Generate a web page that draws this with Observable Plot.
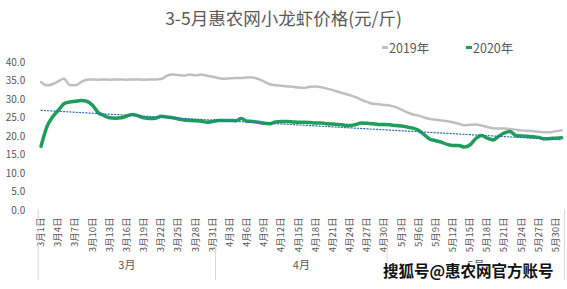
<!DOCTYPE html>
<html><head><meta charset="utf-8">
<script src="https://cdn.jsdelivr.net/npm/d3@7"></script>
<script src="https://cdn.jsdelivr.net/npm/@observablehq/plot@0.6"></script>
<style>
body{margin:0;background:#fff;font-family:"Noto Sans CJK SC","Noto Sans",sans-serif;}
#wrap{position:relative;width:567px;height:289px;overflow:hidden;}
.abs{position:absolute;white-space:nowrap;}
#title{left:0;width:567px;top:5px;text-align:center;font-size:17.5px;color:#595959;}
.leg{top:38px;font-size:12.5px;color:#595959;display:flex;align-items:center;}
.leg i{display:inline-block;width:6px;height:3px;margin-right:1px;}
#wm{left:383px;top:259px;font-size:15.5px;font-weight:bold;color:#111;
 text-shadow:1px 1px 0 #fff,-1px -1px 0 #fff,1px -1px 0 #fff,-1px 1px 0 #fff;}
</style></head><body><div id="wrap"></div>
<script>
const title = "3-5月惠农网小龙虾价格(元/斤)";
const seriesNames = ["2019年", "2020年"];
const months = ["3月", "4月", "5月"];
const monthNums = [3, 4, 5];
const monthDays = [31, 30, 31];
const yTicks = [0, 5, 10, 15, 20, 25, 30, 35, 40];
const price2019 = [
 34.8,33.9,34.2,35.0,35.7,34.0,33.9,34.8,35.4,35.5,
 35.4,35.5,35.4,35.5,35.5,35.4,35.5,35.5,35.4,35.5,
 35.5,35.6,36.5,36.8,36.7,36.5,36.8,36.6,36.8,36.5,
 36.2,35.9,35.7,35.8,35.9,35.9,36.0,36.0,35.6,34.9,
 34.2,33.9,33.8,33.6,33.5,33.3,33.2,33.5,33.6,33.4,
 33.0,32.6,32.1,31.7,31.2,30.7,30.0,29.4,28.9,28.8,
 28.6,28.4,28.0,27.3,26.6,26.0,25.7,25.2,24.8,24.6,
 24.4,24.2,23.9,23.5,23.1,23.2,23.3,23.0,22.6,22.3,
 22.2,22.2,22.1,21.9,21.7,21.6,21.5,21.3,21.2,21.2,
 21.5,21.7];
const price2020 = [
 17.4,22.6,25.3,27.1,28.9,29.4,29.6,29.8,29.6,28.5,
 26.5,25.7,25.1,25.0,25.1,25.6,26.0,25.6,25.1,24.9,
 25.0,25.5,25.3,25.1,24.8,24.5,24.4,24.3,24.2,23.9,
 24.1,24.4,24.4,24.4,24.3,24.9,24.2,24.1,23.9,23.6,
 23.5,24.0,24.1,24.1,24.0,23.9,23.9,23.8,23.7,23.7,
 23.5,23.4,23.3,23.1,23.0,23.3,23.7,23.6,23.5,23.3,
 23.3,23.2,23.0,22.9,22.6,22.3,21.7,20.5,19.3,18.9,
 18.5,17.9,17.6,17.6,17.2,17.8,19.5,20.3,19.6,19.1,
 20.1,21.0,21.4,20.3,20.2,20.1,20.0,19.8,19.4,19.5,
 19.6,19.7];
const watermark = "搜狐号@惠农网官方账号";

// category labels (dates)
const dateLabels = [];
monthNums.forEach((m, k) => { for (let d = 1; d <= monthDays[k]; d++) dateLabels.push(`${m}月${d}日`); });
const idx = dateLabels.map((_, i) => i);
const tickIdx = idx.filter(i => i % 3 === 0);
const d2019 = price2019.map((v, i) => ({i, v}));
const d2020 = price2020.map((v, i) => ({i, v}));
// month group boundaries and centers
const bounds = [-0.5]; monthDays.forEach(n => bounds.push(bounds[bounds.length - 1] + n));
const monthData = months.map((m, k) => ({m, x: (bounds[k] + bounds[k + 1]) / 2}));

const gray = "#595959";
const chart = Plot.plot({
  width: 567, height: 289,
  marginLeft: 37.7, marginRight: 3, marginTop: 62.3, marginBottom: 79,
  style: {fontFamily: '"Noto Sans CJK SC","Noto Sans",sans-serif', fontSize: "10px", color: gray, background: "transparent"},
  x: {domain: [bounds[0], bounds[bounds.length - 1]], axis: null},
  y: {domain: [0, 40], axis: null},
  marks: [
    Plot.axisY({ticks: yTicks, tickFormat: d => d.toFixed(1), tickSize: 0, tickPadding: 13, label: null, fontSize: 10, fill: gray}),
    Plot.axisX({ticks: tickIdx, tickFormat: i => dateLabels[i], tickRotate: -90, tickSize: 0, tickPadding: 7, label: null, fontSize: 9.5, fill: gray}),
    Plot.ruleX([bounds[0], bounds[bounds.length - 1]], {y1: 0, y2: -19, stroke: "#d9d9d9", strokeWidth: 1}),
    Plot.ruleX(bounds.slice(1, -1), {y1: -10, y2: -19, stroke: "#d9d9d9", strokeWidth: 1}),
    Plot.text(monthData, {x: "x", text: "m", frameAnchor: "bottom", dy: 58, fontSize: 11, fill: gray}),
    Plot.line(d2019, {x: "i", y: "v", stroke: "#bfbfbf", strokeWidth: 2.5, curve: "monotone-x"}),
    Plot.line(d2020, {x: "i", y: "v", stroke: "#1f9d5a", strokeWidth: 3.5, curve: "monotone-x"}),
    Plot.linearRegressionY(d2020, {x: "i", y: "v", ci: 0, stroke: "#2f6fb0", strokeWidth: 1.2, strokeDasharray: "1.2,2"})
  ]
});
const wrap = document.getElementById("wrap");
wrap.appendChild(chart);
const t = document.createElement("div"); t.className = "abs"; t.id = "title"; t.textContent = title; wrap.appendChild(t);
const legColors = ["#bfbfbf", "#1f9d5a"];
const legX = [382, 466];
seriesNames.forEach((s, k) => {
  const l = document.createElement("div"); l.className = "abs leg"; l.style.left = legX[k] + "px";
  l.innerHTML = `<i style="background:${legColors[k]}"></i>${s}`; wrap.appendChild(l);
});
const w = document.createElement("div"); w.className = "abs"; w.id = "wm"; w.textContent = watermark; wrap.appendChild(w);
</script></body></html>
